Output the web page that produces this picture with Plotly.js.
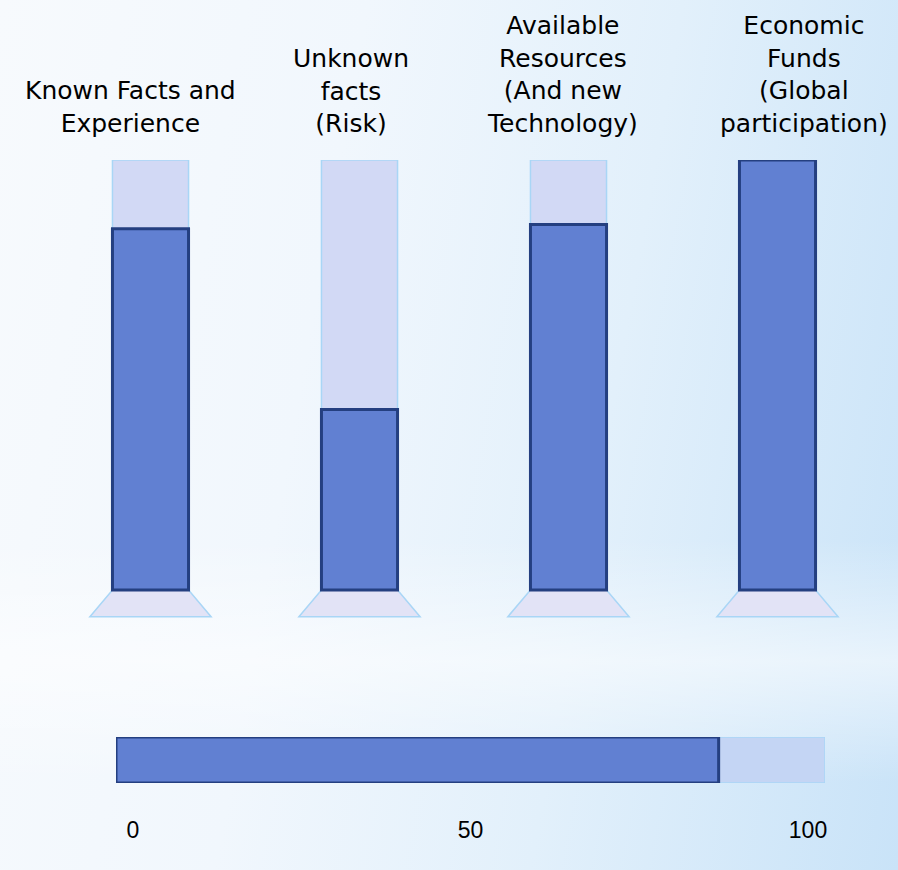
<!DOCTYPE html>
<html>
<head>
<meta charset="utf-8">
<script src="https://cdn.plot.ly/plotly-3.0.1.min.js"></script>
<style>
html,body{margin:0;padding:0;}
body{
  width:898px;height:870px;overflow:hidden;
  background:
    linear-gradient(180deg, rgba(255,255,255,0) 62%, rgba(255,255,255,0.55) 76%, rgba(255,255,255,0) 90%),
    linear-gradient(100deg, #f7fafd 0%, #f1f7fd 35%, #e2f0fb 65%, #c9e3f8 100%);
}
#chart{width:898px;height:870px;}
</style>
</head>
<body>
<div id="chart"></div>
<script>
// ---- data ----
const categories = ["Known Facts and<br>Experience", "Unknown<br>facts<br>(Risk)", "Available<br>Resources<br>(And new<br>Technology)", "Economic<br>Funds<br>(Global<br>participation)"];
const fullScale = [100, 100, 100, 100];
const levels = [84, 42, 85, 100];
const overallFull = [100];
const overallLevel = [85];
const scaleTicks = [0, 50, 100];
const scaleTickLabels = ["0", "50", "100"];

// ---- styles ----
const darkFill = "#6180d2", darkLine = "#243f80";
const lightFill = "#d2d9f5", lightLine = "#a9d6f6";
const baseFill = "#e2e3f6";
const labelShift = [-20, -9, -6, 26];
const W = 898, H = 870;
const px = v => v / W, py = v => 1 - v / H;

const idx = categories.map((c, i) => i);

const traces = [
  {type: "bar", x: categories, y: fullScale, width: 0.364,
   marker: {color: lightFill, line: {color: lightLine, width: 1.5}},
   hoverinfo: "skip", xaxis: "x", yaxis: "y"},
  {type: "bar", x: categories, y: levels, width: 0.364,
   marker: {color: darkFill, line: {color: darkLine, width: 3}},
   hoverinfo: "skip", xaxis: "x", yaxis: "y"},
  {type: "bar", orientation: "h", y: [0], x: overallFull, width: 1,
   marker: {color: "#c4d5f4", line: {color: lightLine, width: 1.5}},
   hoverinfo: "skip", xaxis: "x2", yaxis: "y2"},
  {type: "bar", orientation: "h", y: [0], x: overallLevel, width: 1,
   marker: {color: darkFill, line: {color: darkLine, width: 3}},
   hoverinfo: "skip", xaxis: "x2", yaxis: "y2"},
  {type: "scatter", x: scaleTicks, y: [0, 0, 0], mode: "markers",
   marker: {opacity: 0}, hoverinfo: "skip", xaxis: "x3", yaxis: "y2"}
];

const shapes = idx.map(i => ({
  type: "path", xref: "x", yref: "y", layer: "below",
  path: `M ${i - 0.182},0 L ${i + 0.182},0 L ${i + 0.29},-6.2 L ${i - 0.29},-6.2 Z`,
  fillcolor: baseFill, line: {color: lightLine, width: 1.5}
}));

const annotations = categories.map((c, i) => ({
  x: i, xref: "x", y: py(140), yref: "paper", yanchor: "bottom",
  text: c, showarrow: false, xshift: labelShift[i], align: "center",
  font: {family: "DejaVu Sans", size: 25, color: "#000"}
}));

const layout = {
  width: W, height: H,
  margin: {l: 0, r: 0, t: 0, b: 0},
  paper_bgcolor: "rgba(0,0,0,0)", plot_bgcolor: "rgba(0,0,0,0)",
  showlegend: false, barmode: "overlay", bargap: 0,
  xaxis: {domain: [px(46), px(882)], type: "category", range: [-0.5, 3.5],
          showticklabels: false, showgrid: false, zeroline: false, showline: false, ticks: ""},
  yaxis: {domain: [py(633), py(160)], range: [-10, 100],
          showticklabels: false, showgrid: false, zeroline: false, showline: false, ticks: ""},
  xaxis2: {domain: [px(116), px(825)], range: [0, 100], anchor: "y2",
           showticklabels: false, showgrid: false, zeroline: false, showline: false, ticks: ""},
  yaxis2: {domain: [py(783), py(737)], range: [-0.5, 0.5], anchor: "x2",
           showticklabels: false, showgrid: false, zeroline: false, showline: false, ticks: ""},
  xaxis3: {domain: [px(133), px(808)], range: [0, 100], anchor: "free", position: py(814),
           tickvals: scaleTicks, ticktext: scaleTickLabels, ticks: "",
           tickfont: {family: "Liberation Sans", size: 23, color: "#000"},
           showgrid: false, zeroline: false, showline: false},
  shapes: shapes,
  annotations: annotations
};

Plotly.newPlot("chart", traces, layout, {staticPlot: true, displayModeBar: false});
</script>
</body>
</html>
